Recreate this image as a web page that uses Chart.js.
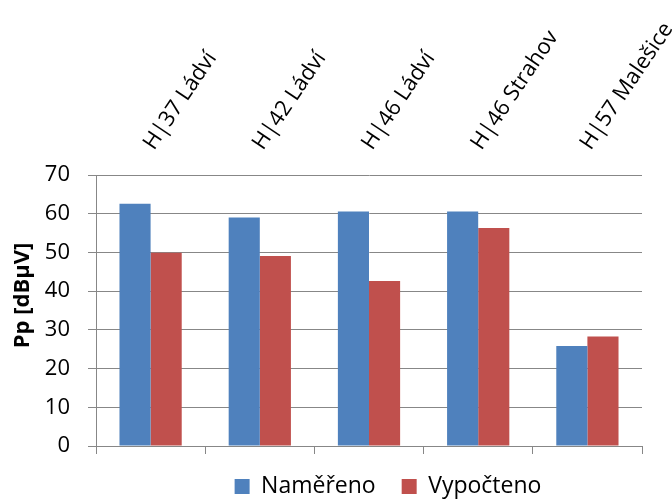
<!DOCTYPE html>
<html>
<head>
<meta charset="utf-8">
<script src="https://cdn.jsdelivr.net/npm/chart.js@4/dist/chart.umd.min.js"></script>
<style>
  html, body { margin: 0; padding: 0; background: #fff; }
  #wrap { width: 672px; height: 499px; }
</style>
</head>
<body>
<div id="wrap"><canvas id="c" width="672" height="499"></canvas></div>
<script>
// Transmitter sites
const categories = ['H|37 Ládví', 'H|42 Ládví', 'H|46 Ládví', 'H|46 Strahov', 'H|57 Malešice'];
// Field strength [dBµV]
const measured = [62.6, 59.0, 60.6, 60.6, 25.8];
const computed = [49.9, 49.1, 42.6, 56.3, 28.3];
const yTicks = [0, 10, 20, 30, 40, 50, 60, 70];
const yTitle = 'Pp [dBµV]';

const FONT = "'Open Sans', 'Liberation Sans', sans-serif";
const GRID = '#878787';

// Draws the vertical axis title a little above the middle of the axis
const yTitlePlugin = {
  id: 'yTitle',
  afterDraw(chart) {
    const s = chart.scales.y;
    const ctx = chart.ctx;
    ctx.save();
    ctx.translate(s.left + 23, (s.top + s.bottom) / 2 - 15);
    ctx.rotate(-Math.PI / 2);
    ctx.font = "bold 22px " + FONT;
    ctx.fillStyle = '#000';
    ctx.textAlign = 'center';
    ctx.textBaseline = 'middle';
    ctx.fillText(yTitle, 0, 0);
    ctx.restore();
  }
};

// Nudges the legend box below the plot
const legendShift = {
  id: 'legendShift',
  afterLayout(chart) {
    const lg = chart.legend;
    if (!lg) return;
    lg.left += 19; lg.right += 19;
    lg.top -= 5;
  }
};

new Chart(document.getElementById('c'), {
  type: 'bar',
  data: {
    labels: categories,
    datasets: [
      { label: 'Naměřeno', data: measured, backgroundColor: '#4F81BD', xAxisID: 'x' },
      { label: 'Vypočteno', data: computed, backgroundColor: '#C0504D', xAxisID: 'x' }
    ]
  },
  plugins: [yTitlePlugin, legendShift],
  options: {
    responsive: false,
    animation: false,
    events: [],
    layout: { padding: { left: 0, right: 30, top: 0, bottom: 0 } },
    datasets: { bar: { categoryPercentage: 0.57, barPercentage: 1.0 } },
    scales: {
      x: {
        position: 'top',
        offset: true,
        grid: { display: false },
        border: { display: false },
        ticks: {
          color: '#000',
          font: { family: FONT, size: 22 },
          minRotation: 56,
          maxRotation: 56,
          autoSkip: false,
          padding: 12,
          labelOffset: 20
        },
        afterFit(s) { s.paddingLeft = 0; s.paddingRight = 0; s.height = 175; }
      },
      x2: {
        type: 'category',
        labels: categories,
        position: 'bottom',
        offset: true,
        grid: { offset: true, drawOnChartArea: false, drawTicks: true, tickLength: 8, color: GRID, lineWidth: 1 },
        border: { display: true, color: GRID },
        ticks: { display: false },
        afterFit(s) { s.paddingLeft = 0; s.paddingRight = 0; s.height = 8; }
      },
      y: {
        min: 0,
        max: 70,
        afterBuildTicks(s) { s.ticks = yTicks.map(v => ({ value: v })); },
        grid: { color: GRID, lineWidth: 1, tickLength: 8 },
        border: { display: true, color: GRID },
        ticks: { color: '#000', font: { family: FONT, size: 22 }, padding: 18 },
        title: { display: false },
        afterFit(s) { s.width = 96; }
      }
    },
    plugins: {
      tooltip: { enabled: false },
      legend: {
        position: 'bottom',
        fullSize: false,
        maxHeight: 45,
        labels: {
          color: '#000',
          font: { family: FONT, size: 23 },
          boxWidth: 15,
          boxHeight: 15,
          padding: 26
        }
      }
    }
  }
});
</script>
</body>
</html>
